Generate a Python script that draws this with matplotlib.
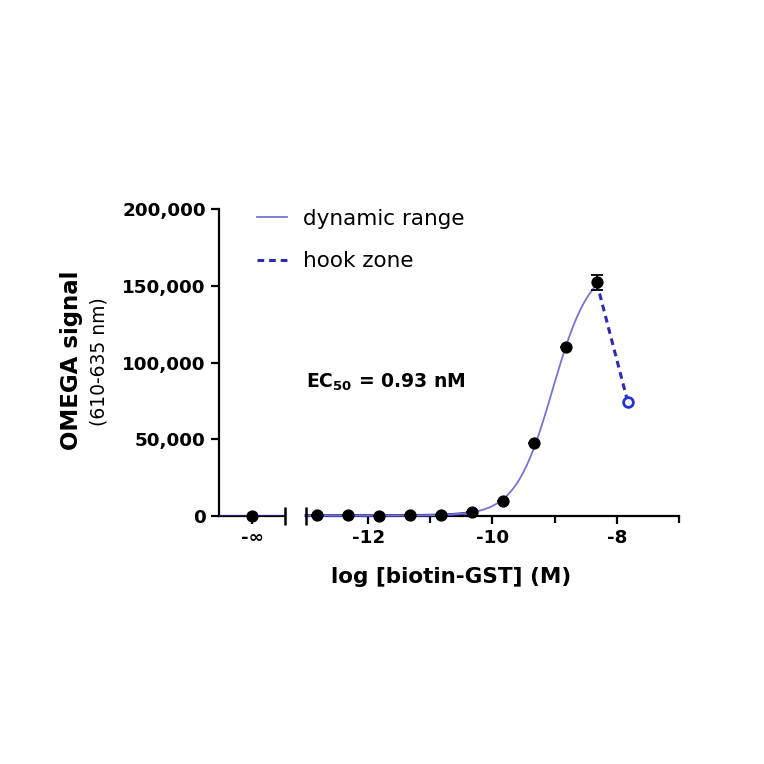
import matplotlib
matplotlib.use('Agg')
import matplotlib.pyplot as plt
import numpy as np
from matplotlib.ticker import FuncFormatter, FixedLocator

plt.rcParams['font.family'] = ['DejaVu Sans']

# data
log_conc = [-12.824, -12.324, -11.824, -11.324, -10.824, -10.324, -9.824, -9.324, -8.824, -8.324]
signal = [500, 400, 300, 400, 600, 2500, 9500, 47500, 110500, 152500]
sig_err = [0, 0, 0, 0, 0, 0, 0, 0, 0, 5000]
zero_signal = 300          # value plotted at -inf (no biotin-GST)
hook_conc = [-8.324, -7.824]
hook_signal = [152500, 74500]

# 4PL fit parameters
fit_bottom = 300
fit_top = 165000
fit_logec50 = np.log10(0.93e-9)
fit_hill = 1.45

curve_col = '#7474d6'
base_col = '#23238f'
hook_col = '#2b2bb5'
open_col = '#2233dd'
tick_fs = 13.2

fig = plt.figure(figsize=(7.64, 7.64), dpi=100)
bot, h = 0.3246, 0.4012
ax0 = fig.add_axes([0.2866, bot, 0.0864, h])
ax = fig.add_axes([0.4005, bot, 0.4882, h])

for a in (ax0, ax):
    a.set_ylim(0, 200000)
    for s in ('top', 'right'):
        a.spines[s].set_visible(False)
    a.spines['bottom'].set_linewidth(1.6)
    a.spines['left'].set_linewidth(1.6)
    a.tick_params(width=1.6, length=6, labelsize=tick_fs)

# left (-inf) segment
ax0.set_xlim(-1, 1)
ax0.set_xticks([0])
ax0.set_xticklabels(['-\u221e'], fontweight='bold', fontsize=tick_fs)
ax0.set_yticks([0, 50000, 100000, 150000, 200000])
ax0.yaxis.set_major_formatter(FuncFormatter(lambda v, p: f'{int(v):,}'))
for lab in ax0.get_yticklabels():
    lab.set_fontweight('bold')
ax0.axhline(fit_bottom, color=base_col, lw=2.0, zorder=3)
ax0.plot([0], [zero_signal], 'o', color='black', ms=7.8, clip_on=False, zorder=5)
ax0.plot([1], [0], marker='|', ms=13, mew=1.8, color='black', clip_on=False, zorder=6)

# main segment
ax.set_xlim(-13, -7)
ax.spines['left'].set_visible(False)
ax.tick_params(axis='y', left=False, labelleft=False)
ax.set_xticks([-12, -10, -8])
ax.set_xticklabels(['-12', '-10', '-8'], fontweight='bold', fontsize=tick_fs)
ax.xaxis.set_minor_locator(FixedLocator([-11, -9, -7]))
ax.tick_params(axis='x', which='minor', width=1.6, length=5)

xs = np.linspace(-13, log_conc[-1], 400)
ys = fit_bottom + (fit_top - fit_bottom) / (1 + 10 ** ((fit_logec50 - xs) * fit_hill))
flat = ys < 2500
ax.plot(xs[flat], ys[flat], color=base_col, lw=2.0, zorder=3, clip_on=False)
ax.plot(xs, ys, color=curve_col, lw=1.3, zorder=3, clip_on=False, label='dynamic range')
ax.plot(hook_conc, hook_signal, color=hook_col, lw=2.2, ls=(0, (2.2, 1.6)), zorder=3,
        label='hook zone')
ax.errorbar(log_conc, signal, yerr=sig_err, fmt='o', color='black', ms=7.8,
            capsize=4, elinewidth=1.3, capthick=1.3, clip_on=False, zorder=5)
ax.plot(hook_conc[-1:], hook_signal[-1:], 'o', mfc='white', mec=open_col, mew=2,
        ms=7, zorder=5)
ax.plot([-13], [0], marker='|', ms=13, mew=1.8, color='black', clip_on=False, zorder=6)

ax.text(-13.0, 87000, 'EC$_{\\mathbf{50}}$ = 0.93 nM', fontsize=13.5, fontweight='bold',
        va='center', ha='left')

leg = fig.legend(loc='upper left', bbox_to_anchor=(0.337, 0.727), frameon=False,
                 fontsize=15.5, handlelength=1.35, handletextpad=0.75,
                 labelspacing=1.05, borderpad=0, borderaxespad=0)

ax.set_xlabel('log [biotin-GST] (M)', fontsize=15.5, fontweight='bold')
ax.xaxis.set_label_coords(0.39, -0.165)

fig.text(0.094, 0.529, 'OMEGA signal', rotation=90, fontsize=16.5, fontweight='bold',
         ha='center', va='center')
fig.text(0.129, 0.527, '(610-635 nm)', rotation=90, fontsize=13.5, ha='center', va='center')

fig.savefig('out.png', dpi=100)
